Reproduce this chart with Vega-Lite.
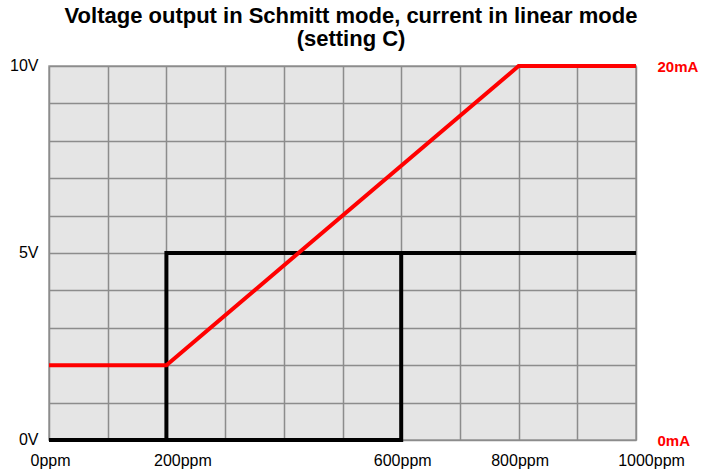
{
  "$schema": "https://vega.github.io/schema/vega-lite/v6.json",
  "width": 587,
  "height": 374,
  "autosize": {"type": "none"},
  "padding": {"left": 49, "top": 66, "right": 65, "bottom": 33},
  "background": "white",
  "title": {
    "text": ["Voltage output in Schmitt mode, current in linear mode", "(setting C)"],
    "font": "Liberation Sans",
    "fontSize": 22,
    "fontWeight": "bold",
    "color": "black",
    "anchor": "middle",
    "dx": 8.5,
    "offset": 6,
    "lineHeight": 23
  },
  "config": {
    "view": {"fill": "#e5e5e5", "stroke": "#9a9a9a", "strokeWidth": 1.5},
    "axis": {"labelFont": "Liberation Sans", "labelFontSize": 16, "labelColor": "black"}
  },
  "datasets": {
    "current": [
      {"ppm": 0, "v": 2, "o": 1},
      {"ppm": 200, "v": 2, "o": 2},
      {"ppm": 800, "v": 10, "o": 3},
      {"ppm": 1000, "v": 10, "o": 4}
    ],
    "voltage": [
      {"seg": "a", "ppm": 0, "v": 0, "o": 1},
      {"seg": "a", "ppm": 600, "v": 0, "o": 2},
      {"seg": "a", "ppm": 600, "v": 5, "o": 3},
      {"seg": "b", "ppm": 200, "v": 0, "o": 1},
      {"seg": "b", "ppm": 200, "v": 5, "o": 2},
      {"seg": "b", "ppm": 1000, "v": 5, "o": 3}
    ]
  },
  "layer": [
    {
      "data": {"name": "voltage"},
      "mark": {"type": "line", "color": "black", "strokeWidth": 4, "strokeCap": "butt", "strokeJoin": "miter", "clip": false},
      "encoding": {
        "x": {
          "field": "ppm", "type": "quantitative",
          "scale": {"domain": [0, 1000], "nice": false, "zero": false},
          "axis": {
            "title": null,
            "values": [0, 100, 200, 300, 400, 500, 600, 700, 800, 900, 1000],
            "labelExpr": "indexof([0,200,600,800,1000], datum.value) >= 0 ? datum.value + 'ppm' : ''",
            "labelOffset": {"condition": [{"test": "datum.value == 200", "value": 16}, {"test": "datum.value == 1000", "value": 15}], "value": 1},
            "grid": true, "gridColor": "#8c8c8c", "gridWidth": 1.5, "gridOpacity": 1,
            "ticks": false, "domain": false, "labelPadding": 12, "labelFlush": false, "labelOverlap": false
          }
        },
        "y": {
          "field": "v", "type": "quantitative",
          "scale": {"domain": [0, 10], "nice": false},
          "axis": {
            "title": null,
            "values": [0, 1, 2, 3, 4, 5, 6, 7, 8, 9, 10],
            "labelExpr": "indexof([0,5,10], datum.value) >= 0 ? datum.value + 'V' : ''",
            "grid": true, "gridColor": "#8c8c8c", "gridWidth": 1.5, "gridOpacity": 1,
            "ticks": false, "domain": false, "labelPadding": 11, "labelBaseline": "middle", "labelOffset": -1, "labelOverlap": false, "labelFlush": false
          }
        },
        "detail": {"field": "seg"},
        "order": {"field": "o"}
      }
    },
    {
      "data": {"name": "current"},
      "mark": {"type": "line", "color": "#ff0000", "strokeWidth": 4, "strokeCap": "butt", "clip": false},
      "encoding": {
        "x": {"field": "ppm", "type": "quantitative", "scale": {"domain": [0, 1000], "nice": false, "zero": false}},
        "y": {
          "field": "v", "type": "quantitative",
          "scale": {"domain": [0, 10], "nice": false},
          "axis": {
            "title": null, "orient": "right",
            "values": [0, 10],
            "labelExpr": "datum.value == 10 ? '20mA' : '0mA'",
            "labelColor": "#ff0000", "labelFontWeight": "bold", "labelFontSize": 15,
            "grid": false, "ticks": false, "domain": false, "labelPadding": 21, "labelBaseline": "middle", "labelFlush": false
          }
        },
        "order": {"field": "o"}
      }
    }
  ],
  "resolve": {"axis": {"y": "independent"}}
}
